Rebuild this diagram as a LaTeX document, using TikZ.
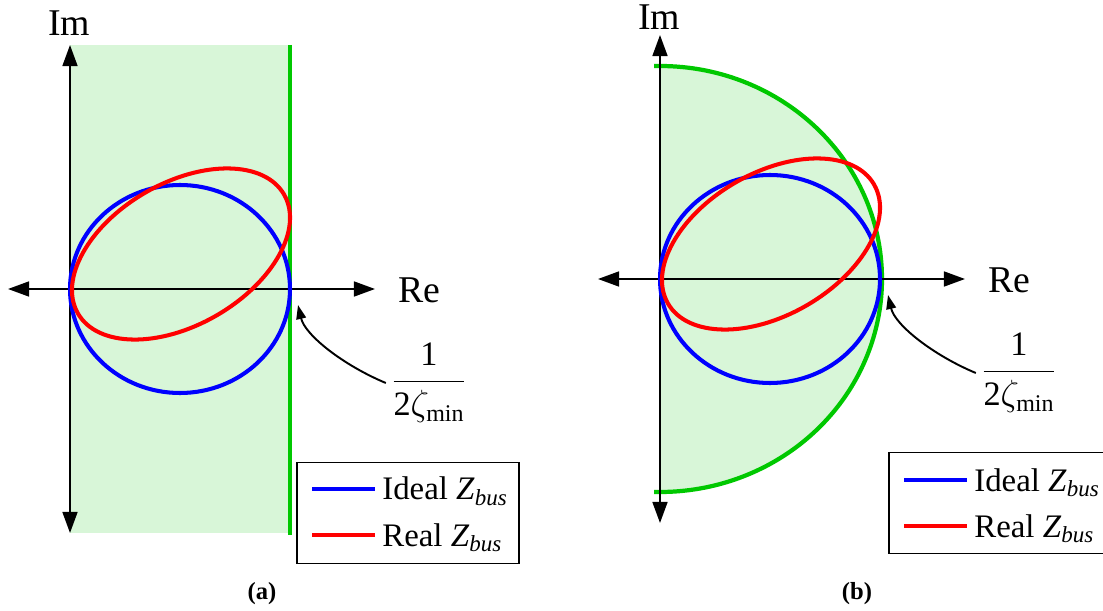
\documentclass[tikz,border=0pt]{standalone}
\usepackage{amsmath}
\usepackage{fontspec}
\setmainfont{Liberation Serif}
\usetikzlibrary{positioning, arrows.meta}

\definecolor{idealblue}{RGB}{0,0,255}
\definecolor{realred}{RGB}{255,0,0}
\definecolor{boundgreen}{RGB}{0,200,0}
\definecolor{regiongreen}{RGB}{216,246,216}

\newcommand{\zetamin}{$\dfrac{\mathrm{1}\rule[-4pt]{0pt}{0pt}}{\rule{0pt}{16pt}\mathrm{2}\zeta_{\mathrm{min}}}$}

\begin{document}
\begin{tikzpicture}[
		x=0.02cm, y=-0.02cm,
		% Define Line Styles
		axis/.style={line width=1.1pt, {Triangle[length=12pt, width=8.5pt]}-{Triangle[length=12pt, width=8.5pt]}},
		ideal/.style={line width=2.3pt, idealblue},
		real/.style={line width=2.3pt, realred},
		bound/.style={line width=2.4pt, boundgreen},
		region/.style={fill=regiongreen},
		note/.style={line width=1.1pt, -{Triangle[length=8pt, width=5.5pt]}},
		% Define Text Styles
		axlabel/.style={inner sep=0pt, font=\fontsize{21.5}{25}\selectfont},
		frac/.style={inner sep=3pt, font=\fontsize{19.5}{23}\selectfont},
		legtext/.style={inner sep=0pt, anchor=base west, font=\fontsize{18.7}{22}\selectfont},
		legbox/.style={draw, line width=1.1pt, minimum width=4.44cm, minimum height=2.02cm},
		caption/.style={inner sep=0pt, font=\bfseries\fontsize{14}{16}\selectfont}
		]
		\useasboundingbox (0,0) rectangle (1103,611);
		
		% (a) Half plane
		\begin{scope}[shift={(70,289)}]
			\fill[region] (0,-244) rectangle (220,244);
			\draw[bound] (220,-244) -- (220,246);
			\draw[axis] (0,244) -- (0,-244);
			\draw[axis] (-62,0) -- (305,0);
			\draw[ideal] (110,0) ellipse [x radius=110, y radius=104];
			\draw[real, rotate around={30:(111,-35)}] (111,-35) ellipse [x radius=119, y radius=71];
			\node[axlabel] (imA) at (-1,-266) {Im};
			\node[axlabel] (reA) at (349,1) {Re};
			\node[frac] (fracA) at (359,94) {\zetamin};
			\coordinate (tipA) at (228,16);
			\draw[note] (fracA.west) .. controls +(-43,-18) and +(7,30) .. (tipA);
			% Legend
			\node[legbox] (legA) at (338,224) {};
			\draw[ideal] (242,200) -- (305,200);
			\draw[real] (242,246) -- (305,246);
			\node[legtext] (idealA) at (312,211) {Ideal \textit{Z}$_{\mathit{bus}}$};
			\node[legtext] (realA) at (312,257) {Real \textit{Z}$_{\mathit{bus}}$};
		\end{scope}
		
		% (b) Half disc
		\begin{scope}[shift={(660,279)}]
			\fill[region] (0,-213) arc [start angle=-90, end angle=90, x radius=222, y radius=213] -- cycle;
			\draw[bound] (0,0) ++(-91.5:222 and 213) arc [start angle=-91.5, end angle=91.5, x radius=222, y radius=213];
			\draw[axis] (0,244) -- (0,-244);
			\draw[axis] (-62,0) -- (305,0);
			\draw[ideal] (110,0) ellipse [x radius=110, y radius=104];
			\draw[real, rotate around={30:(111,-35)}] (111,-35) ellipse [x radius=119, y radius=71];
			\node[axlabel] (imB) at (-1,-262) {Im};
			\node[axlabel] (reB) at (349,1) {Re};
			\node[frac] (fracB) at (359,94) {\zetamin};
			\coordinate (tipB) at (228,16);
			\draw[note] (fracB.west) .. controls +(-43,-18) and +(7,30) .. (tipB);
			% Legend
			\node[legbox] (legB) at (340,224) {};
			\draw[ideal] (244,201) -- (307,201);
			\draw[real] (244,247) -- (307,247);
			\node[legtext] (idealB) at (314,212) {Ideal \textit{Z}$_{\mathit{bus}}$};
			\node[legtext] (realB) at (314,258) {Real \textit{Z}$_{\mathit{bus}}$};
		\end{scope}
		
		% Captions
		\node[caption] (capA) at (262,594) {(a)};
		\node[caption] (capB) at (857,594) {(b)};
		
	\end{tikzpicture}
\end{document}
